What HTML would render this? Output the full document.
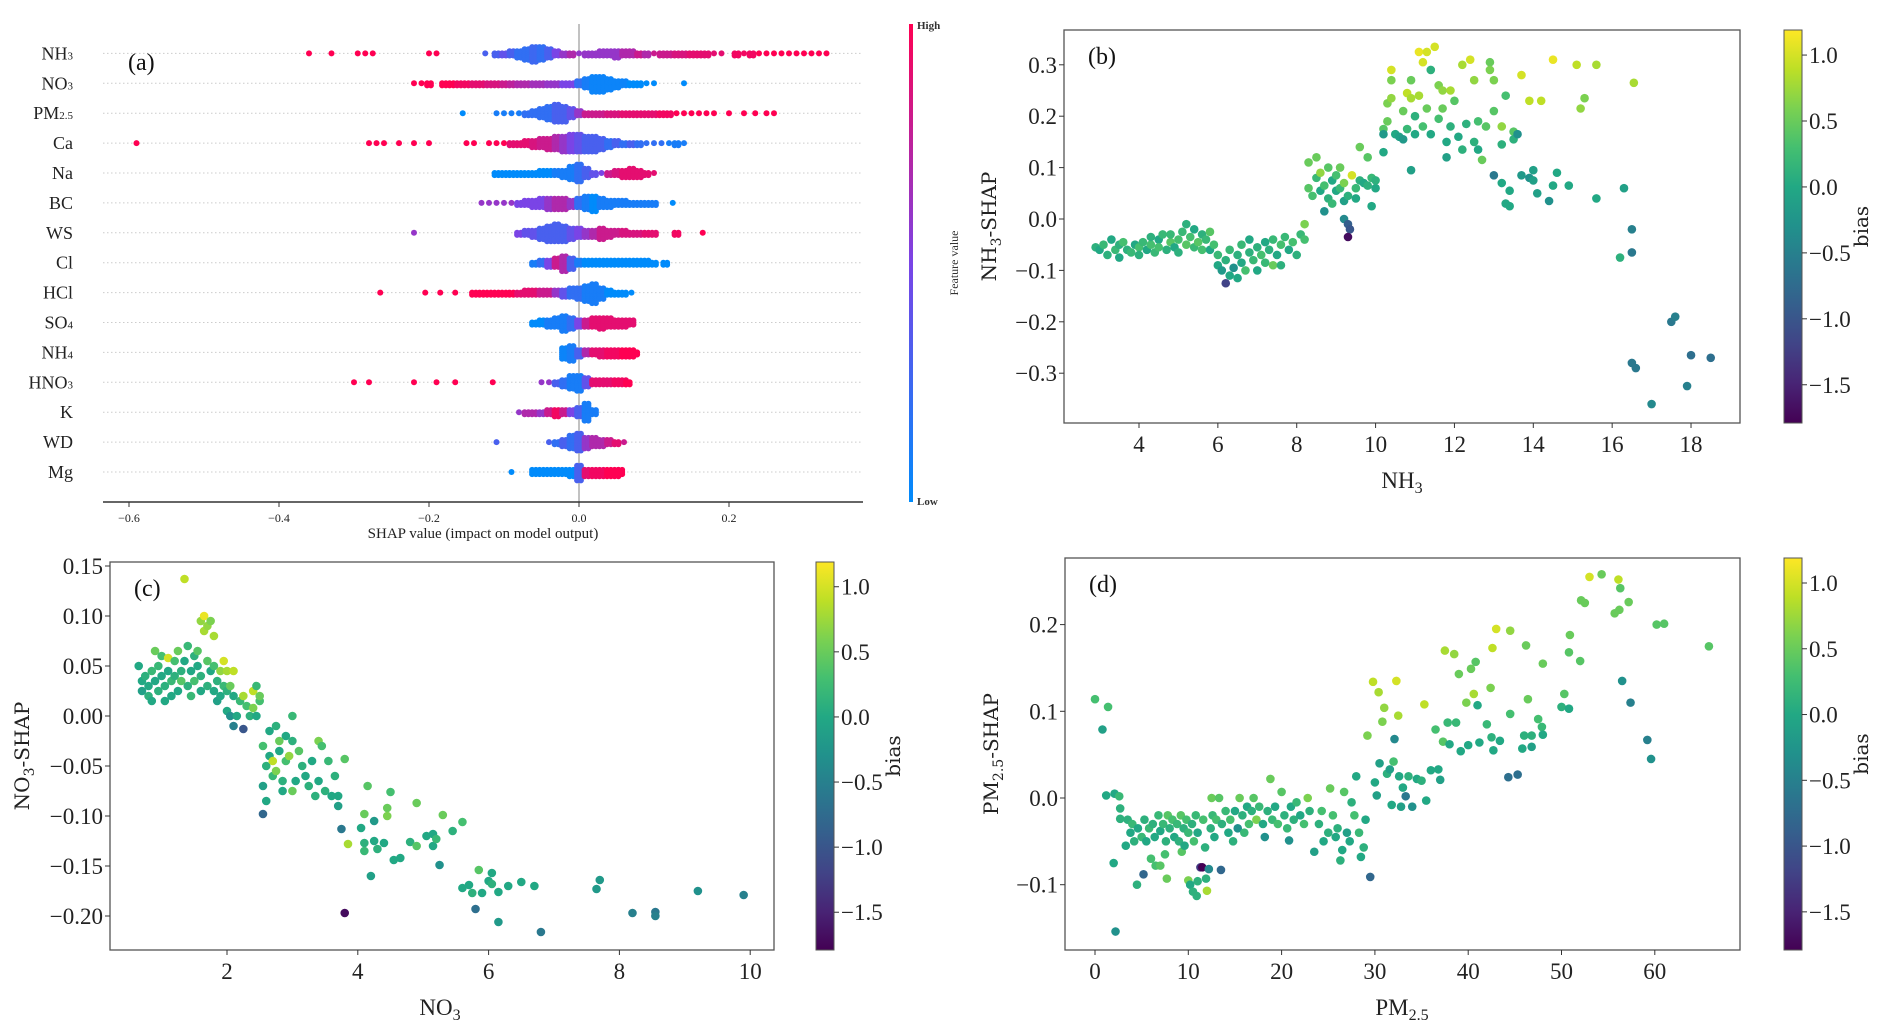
<!DOCTYPE html>
<html><head><meta charset="utf-8">
<style>
html,body{margin:0;padding:0;background:#fff;}
svg{display:block;font-family:"Liberation Serif",serif;}
</style></head>
<body>
<svg id="fig" width="1892" height="1024" viewBox="0 0 1892 1024" xmlns="http://www.w3.org/2000/svg">
<defs>
<linearGradient id="shapgrad" x1="0" y1="1" x2="0" y2="0">
<stop offset="0" stop-color="#008bfb"/><stop offset="0.5" stop-color="#7a44e6"/><stop offset="1" stop-color="#ff0052"/>
</linearGradient>
<linearGradient id="virgrad" x1="0" y1="1" x2="0" y2="0">
<stop offset="0" stop-color="#440154"/><stop offset="0.1" stop-color="#482475"/><stop offset="0.2" stop-color="#414487"/><stop offset="0.3" stop-color="#355f8d"/><stop offset="0.4" stop-color="#2a788e"/><stop offset="0.5" stop-color="#21918c"/><stop offset="0.6" stop-color="#22a884"/><stop offset="0.7" stop-color="#44bf70"/><stop offset="0.8" stop-color="#7ad151"/><stop offset="0.9" stop-color="#bddf26"/><stop offset="1" stop-color="#fde725"/>
</linearGradient>
</defs>
</svg>
<script>
// ---------- Panel (a) data ----------
const featureNames = [["NH","3"],["NO","3"],["PM","2.5"],["Ca",""],["Na",""],["BC",""],["WS",""],["Cl",""],["HCl",""],["SO","4"],["NH","4"],["HNO","3"],["K",""],["WD",""],["Mg",""]];
const shapTicks = [-0.6,-0.4,-0.2,0.0,0.2];
const swarmNH3 = [[-0.36,1,1],[-0.33,1,1],[-0.295,1,1],[-0.285,1,1],[-0.275,1,1],[-0.2,1,1],[-0.19,1,1],[-0.125,1,0.3],[-0.11,2,0.3],[-0.1,2,0.4],[-0.09,3,0.3],[-0.08,4,0.2],[-0.07,6,0.2],[-0.06,8,0.25],[-0.05,7,0.2],[-0.04,5,0.3],[-0.03,3,0.5],[-0.02,2,0.6],[-0.01,2,0.7],[0.0,1,0.6],[0.01,2,0.6],[0.02,2,0.6],[0.03,3,0.6],[0.04,3,0.6],[0.05,4,0.6],[0.06,3,0.7],[0.07,3,0.7],[0.08,2,0.8],[0.09,2,0.7],[0.1,1,0.8],[0.11,2,0.8],[0.12,2,0.8],[0.13,2,0.85],[0.14,2,0.85],[0.15,2,0.9],[0.16,2,0.9],[0.17,2,0.9],[0.18,1,0.9],[0.19,1,0.9],[0.21,2,0.95],[0.22,1,0.95],[0.23,2,0.95],[0.24,1,1],[0.25,1,1],[0.26,1,1],[0.27,1,1],[0.28,1,1],[0.29,1,1],[0.3,1,1],[0.31,1,1],[0.32,1,1],[0.33,1,1]];
const swarmNO3 = [[-0.22,1,1],[-0.21,1,1],[-0.2,2,1],[-0.18,2,1],[-0.17,2,1],[-0.16,2,0.95],[-0.15,2,0.95],[-0.14,2,0.9],[-0.13,2,0.9],[-0.12,2,0.85],[-0.11,2,0.85],[-0.1,2,0.8],[-0.09,2,0.75],[-0.08,2,0.7],[-0.07,2,0.7],[-0.06,2,0.65],[-0.05,2,0.65],[-0.04,2,0.6],[-0.03,2,0.6],[-0.02,2,0.5],[-0.01,2,0.5],[0.0,3,0.2],[0.01,5,0.1],[0.02,8,0.05],[0.03,8,0.05],[0.04,6,0.05],[0.05,4,0.05],[0.06,3,0.05],[0.07,2,0.0],[0.08,2,0.0],[0.09,1,0.0],[0.1,1,0.0],[0.14,1,0.0]];
const swarmPM25 = [[-0.155,1,0],[-0.11,1,0.1],[-0.1,1,0.1],[-0.09,1,0.1],[-0.08,1,0.1],[-0.07,2,0.2],[-0.06,3,0.2],[-0.05,5,0.2],[-0.04,7,0.2],[-0.03,9,0.3],[-0.02,8,0.3],[-0.01,5,0.4],[0.0,3,0.6],[0.01,2,0.8],[0.02,2,0.8],[0.03,2,0.8],[0.04,2,0.85],[0.05,2,0.85],[0.06,2,0.9],[0.07,2,0.9],[0.08,2,0.9],[0.09,2,0.9],[0.1,2,0.9],[0.11,2,0.95],[0.12,2,0.95],[0.13,1,1],[0.14,1,1],[0.15,1,1],[0.16,1,1],[0.17,1,1],[0.18,1,1],[0.2,1,1],[0.22,1,1],[0.235,1,1],[0.25,1,1],[0.26,1,1]];
const swarmCa = [[-0.59,1,1],[-0.28,1,1],[-0.27,1,1],[-0.26,1,1],[-0.24,1,1],[-0.22,1,1],[-0.2,1,1],[-0.15,1,1],[-0.14,1,1],[-0.12,1,1],[-0.11,1,1],[-0.1,1,1],[-0.09,2,0.9],[-0.08,2,0.9],[-0.07,3,0.9],[-0.06,4,0.85],[-0.05,5,0.8],[-0.04,6,0.8],[-0.03,7,0.7],[-0.02,8,0.6],[-0.01,9,0.5],[0.0,9,0.4],[0.01,8,0.3],[0.02,8,0.3],[0.03,6,0.3],[0.04,4,0.2],[0.05,3,0.3],[0.06,2,0.2],[0.07,2,0.3],[0.08,2,0.2],[0.09,1,0.2],[0.1,1,0.2],[0.11,1,0.2],[0.12,1,0.1],[0.13,2,0.1],[0.14,1,0.1]];
const swarmNa = [[-0.11,2,0],[-0.1,2,0],[-0.09,2,0],[-0.08,2,0],[-0.07,2,0],[-0.06,2,0],[-0.05,3,0],[-0.04,3,0],[-0.03,3,0.1],[-0.02,4,0.1],[-0.01,7,0.1],[0.0,9,0.2],[0.01,5,0.3],[0.02,2,0.4],[0.03,1,0.5],[0.04,2,0.8],[0.05,3,0.85],[0.06,4,0.9],[0.07,5,0.9],[0.08,4,0.9],[0.09,2,0.9],[0.1,1,0.9]];
const swarmBC = [[-0.13,1,0.6],[-0.12,1,0.6],[-0.11,1,0.6],[-0.1,1,0.6],[-0.09,1,0.6],[-0.08,2,0.5],[-0.07,3,0.5],[-0.06,4,0.5],[-0.05,5,0.5],[-0.04,6,0.6],[-0.03,6,0.7],[-0.02,6,0.7],[-0.01,4,0.6],[0.0,5,0.2],[0.01,7,0.1],[0.02,8,0.0],[0.03,5,0.1],[0.04,4,0.1],[0.05,3,0.1],[0.06,3,0.1],[0.07,2,0.1],[0.08,2,0.1],[0.09,2,0.1],[0.1,2,0.1],[0.125,1,0]];
const swarmWS = [[-0.22,1,0.6],[-0.08,2,0.5],[-0.07,3,0.4],[-0.06,4,0.4],[-0.05,6,0.3],[-0.04,8,0.3],[-0.03,9,0.3],[-0.02,8,0.3],[-0.01,6,0.4],[0.0,5,0.5],[0.01,4,0.6],[0.02,4,0.7],[0.03,6,0.8],[0.04,4,0.8],[0.05,3,0.8],[0.06,3,0.85],[0.07,2,0.85],[0.08,2,0.85],[0.09,2,0.9],[0.1,2,0.9],[0.13,2,0.95],[0.165,1,1]];
const swarmCl = [[-0.06,2,0.1],[-0.05,3,0.2],[-0.04,4,0.5],[-0.03,5,0.8],[-0.02,8,0.7],[-0.01,6,0.3],[0.0,3,0.1],[0.01,3,0],[0.02,3,0],[0.03,3,0],[0.04,3,0],[0.05,3,0],[0.06,3,0],[0.07,3,0],[0.08,3,0],[0.09,3,0],[0.1,2,0],[0.115,2,0]];
const swarmHCl = [[-0.265,1,1],[-0.205,1,1],[-0.185,1,1],[-0.165,1,1],[-0.14,2,1],[-0.13,2,1],[-0.12,2,1],[-0.11,2,1],[-0.1,2,1],[-0.09,2,1],[-0.08,2,0.9],[-0.07,3,0.9],[-0.06,3,0.9],[-0.05,3,0.8],[-0.04,3,0.8],[-0.03,3,0.6],[-0.02,4,0.4],[-0.01,5,0.2],[0.0,6,0.2],[0.01,8,0.1],[0.02,10,0.1],[0.03,6,0.1],[0.04,3,0],[0.05,2,0],[0.06,2,0],[0.07,1,0]];
const swarmSO4 = [[-0.06,2,0],[-0.05,3,0],[-0.04,4,0.1],[-0.03,5,0.1],[-0.02,8,0.1],[-0.01,6,0.2],[0.0,4,0.5],[0.01,4,0.8],[0.02,5,0.9],[0.03,6,0.9],[0.04,5,0.9],[0.05,4,0.9],[0.06,4,0.9],[0.07,3,0.9]];
const swarmNH4 = [[-0.02,6,0.05],[-0.01,8,0.1],[0.0,4,0.3],[0.01,3,0.7],[0.02,3,0.9],[0.03,4,0.9],[0.04,4,0.95],[0.05,4,0.95],[0.06,4,1],[0.07,4,1],[0.075,2,1]];
const swarmHNO3 = [[-0.3,1,1],[-0.28,1,1],[-0.22,1,1],[-0.19,1,1],[-0.165,1,1],[-0.115,1,1],[-0.05,1,0.6],[-0.04,1,0.6],[-0.03,2,0.3],[-0.02,4,0.2],[-0.01,7,0.1],[0.0,8,0.1],[0.01,5,0.4],[0.02,3,0.9],[0.03,3,0.9],[0.04,3,0.9],[0.05,3,0.95],[0.06,3,0.95],[0.065,2,1]];
const swarmK = [[-0.08,1,0.6],[-0.07,2,0.7],[-0.06,2,0.7],[-0.05,2,0.6],[-0.04,3,0.8],[-0.03,4,0.95],[-0.02,3,0.8],[-0.01,3,0.5],[0.0,5,0.3],[0.01,9,0.1],[0.02,3,0.1]];
const swarmWD = [[-0.11,1,0.3],[-0.04,1,0.3],[-0.03,2,0.2],[-0.02,4,0.3],[-0.01,7,0.2],[0.0,9,0.3],[0.01,6,0.6],[0.02,5,0.7],[0.03,4,0.7],[0.04,3,0.8],[0.05,2,0.9],[0.06,1,0.8]];
const swarmMg = [[-0.09,1,0],[-0.06,3,0],[-0.05,3,0],[-0.04,3,0],[-0.03,3,0],[-0.02,3,0],[-0.01,4,0],[0.0,8,0.3],[0.01,4,0.9],[0.02,4,0.95],[0.03,4,0.95],[0.04,4,1],[0.05,4,1],[0.055,3,1]];
const swarmRows = [swarmNH3,swarmNO3,swarmPM25,swarmCa,swarmNa,swarmBC,swarmWS,swarmCl,swarmHCl,swarmSO4,swarmNH4,swarmHNO3,swarmK,swarmWD,swarmMg];

// ---------- Panel (b) data: [NH3, SHAP, bias] ----------
const nh3Points = [[2.9,-0.055,0.1],[3.0,-0.06,0.0],[3.1,-0.05,0.2],[3.2,-0.07,0.1],[3.3,-0.04,0.0],[3.4,-0.06,0.2],[3.5,-0.05,0.1],[3.5,-0.075,0.0],[3.6,-0.045,0.3],[3.7,-0.06,0.1],[3.8,-0.065,0.2],[3.9,-0.05,0.0],[4.0,-0.055,0.3],[4.0,-0.07,0.1],[4.1,-0.045,0.2],[4.2,-0.06,0.0],[4.3,-0.05,0.3],[4.3,-0.035,0.1],[4.4,-0.065,0.2],[4.5,-0.04,0.0],[4.5,-0.055,0.3],[4.6,-0.03,0.2],[4.7,-0.06,0.1],[4.8,-0.045,0.4],[4.8,-0.03,0.2],[4.9,-0.055,0.0],[5.0,-0.04,0.3],[5.0,-0.065,0.1],[5.1,-0.025,0.2],[5.2,-0.05,0.4],[5.2,-0.01,0.1],[5.3,-0.035,0.3],[5.4,-0.055,0.2],[5.4,-0.02,0.0],[5.5,-0.045,0.4],[5.6,-0.03,0.1],[5.6,-0.06,0.3],[5.7,-0.04,0.2],[5.8,-0.025,0.4],[5.8,-0.06,0.0],[5.9,-0.05,0.3],[6.0,-0.07,0.2],[6.0,-0.09,0.0],[6.1,-0.1,-0.2],[6.2,-0.125,-1.2],[6.2,-0.08,0.1],[6.3,-0.11,0.0],[6.3,-0.06,0.2],[6.4,-0.095,-0.3],[6.5,-0.07,0.1],[6.5,-0.115,0.0],[6.6,-0.05,0.2],[6.6,-0.085,0.0],[6.7,-0.1,0.3],[6.8,-0.065,0.1],[6.8,-0.04,0.0],[6.9,-0.08,0.2],[7.0,-0.055,0.1],[7.0,-0.1,0.0],[7.1,-0.07,0.3],[7.2,-0.045,0.0],[7.2,-0.085,0.2],[7.3,-0.06,0.1],[7.4,-0.09,0.5],[7.4,-0.04,0.2],[7.5,-0.07,0.0],[7.6,-0.05,0.3],[7.6,-0.09,0.1],[7.7,-0.035,0.2],[7.8,-0.06,0.0],[7.9,-0.045,0.3],[8.0,-0.07,0.1],[8.1,-0.03,0.2],[8.2,-0.01,0.6],[8.2,-0.04,0.3],[8.3,0.11,0.5],[8.3,0.06,0.4],[8.4,0.045,0.3],[8.5,0.12,0.5],[8.5,0.08,0.2],[8.6,0.055,0.0],[8.6,0.09,0.7],[8.7,0.065,0.3],[8.8,0.1,0.4],[8.8,0.04,0.1],[8.9,0.075,0.0],[8.9,0.03,0.2],[8.7,0.015,-0.3],[9.0,0.085,0.3],[9.0,0.055,0.0],[9.1,0.06,0.2],[9.1,0.1,0.5],[9.2,0.035,-0.1],[9.2,0.07,0.6],[9.2,0.0,-0.4],[9.3,-0.01,-0.9],[9.35,-0.02,-1.0],[9.3,-0.035,-1.7],[9.3,0.045,0.1],[9.4,0.085,1.0],[9.5,0.06,0.2],[9.5,0.04,0.0],[9.6,0.075,0.1],[9.6,0.14,0.5],[9.7,0.07,0.0],[9.8,0.12,0.4],[9.8,0.065,0.1],[9.9,0.025,0.0],[9.9,0.08,0.2],[10.0,0.06,0.0],[10.0,0.075,0.1],[10.2,0.13,0.0],[10.2,0.175,0.4],[10.2,0.165,-0.2],[10.3,0.225,0.6],[10.3,0.19,0.5],[10.4,0.235,0.7],[10.4,0.29,1.0],[10.4,0.27,0.6],[10.5,0.165,0.0],[10.6,0.16,-0.1],[10.7,0.155,-0.2],[10.7,0.21,0.5],[10.8,0.245,0.9],[10.8,0.175,0.2],[10.9,0.095,-0.1],[10.9,0.27,0.5],[10.9,0.235,0.8],[11.0,0.2,0.1],[11.0,0.165,0.0],[11.1,0.325,1.1],[11.1,0.24,0.8],[11.2,0.305,1.0],[11.2,0.18,0.3],[11.3,0.325,1.0],[11.3,0.215,0.5],[11.4,0.29,0.1],[11.4,0.165,0.0],[11.5,0.335,1.0],[11.6,0.26,0.6],[11.6,0.195,0.3],[11.7,0.215,0.5],[11.7,0.25,0.7],[11.8,0.15,0.0],[11.8,0.12,-0.1],[11.9,0.25,0.8],[11.9,0.18,0.1],[12.0,0.23,0.4],[12.1,0.16,0.0],[12.2,0.135,0.1],[12.2,0.3,0.8],[12.3,0.185,0.1],[12.4,0.31,1.0],[12.5,0.27,0.7],[12.5,0.15,0.1],[12.6,0.135,0.0],[12.6,0.19,0.3],[12.7,0.115,0.5],[12.8,0.18,0.4],[12.9,0.305,0.5],[12.9,0.29,0.6],[13.0,0.21,0.4],[13.0,0.27,0.6],[13.0,0.085,-0.6],[13.2,0.07,0.0],[13.2,0.145,0.1],[13.2,0.18,0.7],[13.3,0.24,0.3],[13.3,0.03,0.0],[13.4,0.055,0.0],[13.4,0.025,0.0],[13.5,0.17,0.4],[13.5,0.155,0.1],[13.6,0.165,-0.3],[13.7,0.28,1.0],[13.7,0.085,-0.2],[13.9,0.23,0.9],[13.9,0.08,-0.3],[14.0,0.095,-0.1],[14.0,0.075,-0.1],[14.1,0.05,-0.1],[14.2,0.23,0.9],[14.4,0.035,-0.3],[14.5,0.065,0.0],[14.5,0.31,1.1],[14.6,0.09,0.0],[14.9,0.065,0.0],[15.1,0.3,0.9],[15.2,0.215,0.7],[15.3,0.235,0.6],[15.6,0.04,0.0],[15.6,0.3,0.8],[16.2,-0.075,0.1],[16.3,0.06,-0.1],[16.5,-0.065,-0.6],[16.5,-0.02,-0.5],[16.55,0.265,0.8],[16.5,-0.28,-0.6],[16.6,-0.29,-0.6],[17.0,-0.36,-0.4],[17.5,-0.2,-0.6],[17.6,-0.19,-0.5],[17.9,-0.325,-0.5],[18.0,-0.265,-0.7],[18.5,-0.27,-0.7]];
const nh3XTicks = [4,6,8,10,12,14,16,18];
const nh3YTicks = [-0.3,-0.2,-0.1,0.0,0.1,0.2,0.3];

// ---------- Panel (c) data: [NO3, SHAP, bias] ----------
const no3Points = [[0.65,0.05,0.0],[0.7,0.035,0.0],[0.7,0.025,-0.1],[0.75,0.04,0.1],[0.8,0.03,0.0],[0.8,0.02,0.1],[0.85,0.045,0.2],[0.85,0.015,0.0],[0.9,0.065,0.5],[0.9,0.035,0.0],[0.95,0.05,0.2],[0.95,0.025,0.1],[1.0,0.04,0.0],[1.0,0.06,0.3],[1.05,0.03,0.1],[1.05,0.015,0.0],[1.1,0.058,1.0],[1.1,0.045,0.0],[1.15,0.035,0.2],[1.15,0.02,0.0],[1.2,0.055,0.3],[1.2,0.04,0.1],[1.25,0.065,0.5],[1.25,0.025,0.0],[1.3,0.045,0.1],[1.3,0.035,0.4],[1.35,0.137,0.9],[1.35,0.055,0.0],[1.4,0.07,0.2],[1.4,0.03,0.1],[1.45,0.045,0.0],[1.45,0.02,0.2],[1.5,0.06,0.1],[1.5,0.035,0.3],[1.55,0.05,0.0],[1.55,0.065,0.4],[1.6,0.095,0.7],[1.6,0.04,0.1],[1.6,0.025,0.0],[1.65,0.085,0.8],[1.65,0.1,1.1],[1.7,0.09,0.7],[1.7,0.055,0.4],[1.7,0.03,0.1],[1.75,0.045,0.0],[1.75,0.095,0.6],[1.8,0.08,0.8],[1.8,0.025,0.0],[1.8,0.05,0.3],[1.85,0.035,0.1],[1.85,0.015,-0.1],[1.9,0.045,0.7],[1.9,0.02,0.0],[1.95,0.055,1.0],[1.95,0.03,0.2],[2.0,0.005,0.0],[2.0,0.045,0.8],[2.0,0.025,0.1],[2.05,0.0,-0.3],[2.05,0.03,0.5],[2.1,0.045,0.9],[2.1,0.02,0.0],[2.1,-0.01,-0.5],[2.15,0.0,0.0],[2.2,0.015,0.2],[2.25,0.02,0.8],[2.25,-0.013,-1.0],[2.3,0.01,0.3],[2.35,0.0,0.1],[2.4,0.025,0.9],[2.4,0.008,0.6],[2.45,0.03,0.2],[2.45,0.0,0.0],[2.5,0.015,0.3],[2.5,0.02,0.5],[2.55,-0.03,0.3],[2.55,-0.07,-0.1],[2.6,-0.05,0.1],[2.55,-0.098,-0.8],[2.6,-0.085,0.0],[2.65,-0.015,0.0],[2.65,-0.04,0.0],[2.7,-0.045,0.9],[2.7,-0.06,0.2],[2.75,-0.01,0.1],[2.75,-0.055,0.6],[2.8,-0.025,0.5],[2.8,-0.035,0.0],[2.85,-0.065,0.1],[2.85,-0.075,0.0],[2.9,-0.02,0.0],[2.9,-0.045,0.3],[2.95,-0.04,0.7],[3.0,0.0,0.2],[3.0,-0.025,0.1],[3.0,-0.075,0.5],[3.05,-0.065,0.0],[3.1,-0.035,0.4],[3.15,-0.05,0.1],[3.2,-0.06,0.0],[3.25,-0.07,0.1],[3.3,-0.045,0.0],[3.35,-0.08,0.1],[3.4,-0.025,0.6],[3.4,-0.065,0.0],[3.45,-0.03,0.3],[3.5,-0.075,0.1],[3.55,-0.045,0.2],[3.6,-0.08,0.0],[3.65,-0.06,0.1],[3.7,-0.08,0.0],[3.7,-0.09,-0.1],[3.75,-0.113,-0.6],[3.8,-0.043,0.4],[3.85,-0.128,0.8],[3.8,-0.197,-1.7],[4.05,-0.112,0.0],[4.1,-0.098,0.5],[4.1,-0.127,0.1],[4.1,-0.135,0.2],[4.15,-0.07,0.4],[4.2,-0.16,-0.1],[4.25,-0.105,-0.2],[4.25,-0.125,0.0],[4.3,-0.133,0.1],[4.4,-0.127,0.0],[4.45,-0.092,0.5],[4.45,-0.1,0.6],[4.5,-0.076,0.3],[4.55,-0.144,0.0],[4.65,-0.142,0.0],[4.8,-0.126,0.1],[4.9,-0.087,0.5],[4.9,-0.13,0.4],[5.05,-0.12,0.0],[5.15,-0.118,0.0],[5.15,-0.13,0.0],[5.2,-0.123,0.2],[5.3,-0.099,0.5],[5.25,-0.149,-0.3],[5.45,-0.115,0.1],[5.6,-0.106,0.3],[5.6,-0.172,0.0],[5.7,-0.169,0.0],[5.75,-0.177,0.1],[5.8,-0.193,-0.7],[5.85,-0.154,0.4],[5.9,-0.177,0.0],[6.0,-0.165,0.0],[6.05,-0.157,0.0],[6.05,-0.168,0.1],[6.15,-0.176,0.0],[6.15,-0.206,-0.2],[6.3,-0.17,0.0],[6.5,-0.166,0.0],[6.7,-0.17,0.0],[6.8,-0.216,-0.6],[7.65,-0.173,-0.2],[7.7,-0.164,-0.2],[8.2,-0.197,-0.5],[8.55,-0.196,-0.6],[8.55,-0.2,-0.5],[9.2,-0.175,-0.3],[9.9,-0.179,-0.5]];
const no3XTicks = [2,4,6,8,10];
const no3YTicks = [-0.2,-0.15,-0.1,-0.05,0.0,0.05,0.1,0.15];

// ---------- Panel (d) data: [PM2.5, SHAP, bias] ----------
const pmPoints = [[0.0,0.114,0.3],[0.8,0.079,-0.1],[1.4,0.105,0.3],[1.2,0.003,0.0],[2.1,0.005,0.0],[2.6,0.002,0.2],[2.7,-0.012,0.1],[2.7,-0.024,0.1],[2.0,-0.075,0.0],[2.2,-0.154,-0.3],[3.3,-0.055,0.0],[3.5,-0.025,0.1],[3.8,-0.04,0.0],[4.0,-0.03,0.2],[4.2,-0.05,0.1],[4.5,-0.1,0.1],[4.6,-0.035,0.0],[5.0,-0.045,0.2],[5.2,-0.088,-0.8],[5.3,-0.025,0.1],[5.5,-0.05,0.0],[5.8,-0.035,0.2],[6.0,-0.07,0.3],[6.2,-0.03,0.1],[6.4,-0.045,0.0],[6.5,-0.078,0.3],[6.8,-0.02,0.2],[7.0,-0.038,0.0],[7.0,-0.078,0.4],[7.3,-0.03,0.2],[7.5,-0.065,0.3],[7.6,-0.05,0.1],[7.7,-0.093,0.5],[7.8,-0.02,0.4],[8.0,-0.035,0.1],[8.3,-0.025,0.3],[8.5,-0.045,0.0],[8.8,-0.03,0.2],[9.0,-0.05,0.1],[9.2,-0.02,0.4],[9.3,-0.062,0.4],[9.5,-0.035,0.1],[9.6,-0.055,0.0],[9.8,-0.025,0.3],[10.0,-0.095,0.6],[10.0,-0.04,0.2],[10.2,-0.1,0.0],[10.4,-0.03,0.1],[10.5,-0.108,0.1],[10.6,-0.05,0.3],[10.8,-0.02,0.2],[10.9,-0.113,0.1],[11.0,-0.04,0.0],[11.0,-0.096,0.1],[11.3,-0.08,-1.3],[11.5,-0.08,-1.8],[11.6,-0.025,0.3],[11.8,-0.057,0.1],[11.9,-0.093,0.1],[12.0,-0.107,0.8],[12.2,-0.082,-0.4],[12.4,-0.035,0.1],[12.5,0.0,0.5],[12.6,-0.02,0.2],[12.8,-0.045,0.0],[13.0,-0.025,0.3],[13.3,0.0,0.4],[13.5,-0.083,-0.8],[13.6,-0.03,0.1],[14.0,-0.015,0.2],[14.3,-0.04,0.0],[14.5,-0.025,0.3],[14.8,-0.05,0.1],[15.0,-0.015,0.0],[15.3,-0.035,-0.3],[15.5,0.0,0.5],[15.8,-0.02,0.1],[16.0,-0.04,0.2],[16.3,-0.01,0.0],[16.5,-0.03,0.3],[16.8,-0.015,0.1],[17.0,0.0,0.4],[17.3,-0.025,0.6],[17.6,-0.01,0.2],[18.0,-0.03,0.0],[18.2,-0.045,-0.3],[18.5,-0.015,0.1],[18.8,0.022,0.5],[19.0,-0.025,0.2],[19.3,-0.01,0.0],[19.6,-0.03,0.3],[20.0,0.007,0.4],[20.3,-0.02,0.1],[20.6,-0.035,0.2],[20.8,-0.049,-0.3],[21.0,-0.01,0.0],[21.3,-0.025,0.1],[21.6,-0.005,0.2],[22.0,-0.02,0.0],[22.4,-0.03,0.3],[22.8,0.0,0.6],[23.0,-0.015,0.1],[23.5,-0.062,-0.1],[24.0,-0.03,0.1],[24.3,-0.015,0.3],[24.5,-0.05,0.0],[25.0,-0.04,0.1],[25.2,0.011,0.5],[25.5,-0.02,0.3],[25.8,-0.045,0.0],[26.0,-0.035,0.1],[26.3,-0.072,0.1],[26.5,-0.06,0.0],[26.7,0.007,0.4],[27.0,-0.04,-0.1],[27.3,-0.05,0.0],[27.5,-0.005,0.1],[27.8,-0.02,0.3],[28.0,0.025,0.0],[28.3,-0.04,0.2],[28.5,-0.068,0.0],[28.8,-0.057,0.1],[29.0,-0.025,0.0],[29.2,0.072,0.6],[29.5,-0.091,-0.8],[29.8,0.134,0.9],[30.0,0.018,0.0],[30.2,0.003,-0.1],[30.4,0.122,0.8],[30.5,0.04,-0.1],[30.8,0.088,0.6],[31.0,0.104,0.7],[31.3,0.028,0.1],[31.6,0.033,-0.1],[31.8,-0.008,0.0],[32.0,0.042,0.3],[32.1,0.068,-0.4],[32.3,0.135,1.0],[32.5,0.095,0.8],[32.6,0.025,0.0],[32.8,-0.01,-0.1],[33.0,0.012,0.0],[33.3,0.002,-0.6],[33.6,0.025,0.1],[34.0,-0.01,-0.3],[34.5,0.022,0.0],[35.0,0.02,0.1],[35.3,0.108,0.9],[35.5,-0.003,0.0],[36.0,0.032,0.0],[36.5,0.079,0.3],[36.8,0.033,0.0],[37.0,0.021,-0.1],[37.3,0.065,0.4],[37.5,0.17,0.8],[37.8,0.087,0.2],[38.0,0.062,0.0],[38.5,0.166,0.7],[38.7,0.087,0.2],[39.0,0.143,0.5],[39.2,0.054,0.0],[39.8,0.11,0.6],[40.0,0.061,0.0],[40.3,0.149,0.5],[40.6,0.12,0.8],[40.8,0.157,0.4],[41.0,0.107,0.0],[41.2,0.064,0.0],[42.0,0.085,0.2],[42.4,0.127,0.6],[42.5,0.07,0.1],[42.6,0.173,0.9],[42.7,0.055,0.0],[43.0,0.195,1.0],[43.4,0.066,0.0],[44.3,0.024,-0.7],[44.5,0.193,0.7],[44.5,0.097,0.3],[45.3,0.027,-0.7],[45.8,0.057,0.0],[46.0,0.072,0.1],[46.2,0.176,0.5],[46.4,0.114,0.5],[46.8,0.072,0.1],[46.8,0.059,-0.1],[47.5,0.091,0.3],[47.9,0.082,0.2],[48.0,0.155,0.5],[48.0,0.073,0.0],[50.0,0.105,0.1],[50.3,0.12,0.4],[50.8,0.103,0.0],[50.9,0.188,0.5],[50.8,0.168,0.4],[52.0,0.158,0.4],[52.1,0.228,0.5],[52.5,0.225,0.5],[53.0,0.255,1.0],[54.3,0.258,0.5],[55.7,0.213,0.5],[56.1,0.252,0.9],[56.3,0.242,0.4],[56.2,0.217,0.5],[56.5,0.135,-0.3],[57.2,0.226,0.5],[57.4,0.11,-0.5],[59.2,0.067,-0.5],[59.6,0.045,-0.3],[60.2,0.2,0.4],[61.0,0.201,0.4],[65.8,0.175,0.4]];
const pmXTicks = [0,10,20,30,40,50,60];
const pmYTicks = [-0.1,0.0,0.1,0.2];
const biasTicks = [-1.5,-1.0,-0.5,0.0,0.5,1.0];

// ---------- helpers ----------
const NS = "http://www.w3.org/2000/svg";
const svg = document.getElementById("fig");
function mk(tag, attrs, parent){ const e=document.createElementNS(NS,tag); for(const k in attrs) e.setAttribute(k,attrs[k]); (parent||svg).appendChild(e); return e; }
function fmt(v,d){ const s=Math.abs(v).toFixed(d); return (v<-1e-9?"\u2212":"")+s; }
const VIR=[[68,1,84],[72,36,117],[65,68,135],[53,95,141],[42,120,142],[33,145,140],[34,168,132],[68,191,112],[122,209,81],[189,223,38],[253,231,37]];
function viridis(t){ t=Math.max(0,Math.min(1,t)); const p=t*10, i=Math.min(9,Math.floor(p)), f=p-i; const a=VIR[i],b=VIR[i+1]; return `rgb(${Math.round(a[0]+(b[0]-a[0])*f)},${Math.round(a[1]+(b[1]-a[1])*f)},${Math.round(a[2]+(b[2]-a[2])*f)})`; }
function shapColor(t){ const A=[0,139,251],M=[122,68,230],B=[255,0,82]; let a,b,f; if(t<0.5){a=A;b=M;f=t/0.5;}else{a=M;b=B;f=(t-0.5)/0.5;} return `rgb(${Math.round(a[0]+(b[0]-a[0])*f)},${Math.round(a[1]+(b[1]-a[1])*f)},${Math.round(a[2]+(b[2]-a[2])*f)})`; }
const VMIN=-1.79, VMAX=1.19;

// ---------- Panel (a) ----------
(function(){
  const g=mk("g",{});
  
  
  const xa=v=>579+v*750;
  const rowY=i=>53.4+i*29.9;
  featureNames.forEach((f,i)=>{
    const y=rowY(i);
    const ln=mk("line",{x1:103,x2:863,y1:y,y2:y,stroke:"#cccccc","stroke-width":1,"stroke-dasharray":"1.5,2.5"},g);
    
    
    const t=mk("text",{x:73,y:y+6,"text-anchor":"end","font-size":18,fill:"#222"},g);
    
    
    t.textContent=f[0];
    if(f[1]){ const s=mk("tspan",{"font-size":11,dy:0},t); s.textContent=f[1]; }
  });
  const zl=mk("line",{x1:xa(0),x2:xa(0),y1:24,y2:502,stroke:"#999",'stroke-width':1.2},g);
  
  
  swarmRows.forEach((row,i)=>{
    const yc=rowY(i);
    const rg=mk("g",{},g);
    
    
    row.forEach(b=>{
      const [v,n,c]=b;
      const offs=[0];
      for(let k=1;offs.length<n;k++){offs.push(k);if(offs.length<n)offs.push(-k);}
      const fill=shapColor(c);
      const xs = n>1 ? [xa(v)-1.9,xa(v)+1.9] : [xa(v)];
      xs.forEach(xx=>{
        offs.forEach(o=>{
          const d=mk("circle",{cx:xx,cy:yc+o*2.1,r:3.0,fill:fill},rg);
          
          
        });
      });
    });
  });
  const ax=mk("line",{x1:103,x2:863,y1:502,y2:502,stroke:"#333","stroke-width":1.5},g);
  
  
  shapTicks.forEach(v=>{
    const tk=mk("line",{x1:xa(v),x2:xa(v),y1:502,y2:507,stroke:"#333"},g);
    
    
    const tl=mk("text",{x:xa(v),y:522,"text-anchor":"middle","font-size":12,fill:"#222"},g);
    
    
    tl.textContent=fmt(v,1);
  });
  const xt=mk("text",{x:483,y:538,"text-anchor":"middle","font-size":15,fill:"#222"},g);
  
  
  xt.textContent="SHAP value (impact on model output)";
  const lab=mk("text",{x:128,y:70,"font-size":24,fill:"#111"},g);
  
  
  lab.textContent="(a)";
  const cb=mk("rect",{x:909,y:24,width:4,height:478,fill:"url(#shapgrad)"},g);
  
  
  const hi=mk("text",{x:917,y:29,"font-size":11,"font-weight":"bold",fill:"#333"},g);
  
  
  hi.textContent="High";
  const lo=mk("text",{x:917,y:505,"font-size":11,"font-weight":"bold",fill:"#333"},g);
  
  
  lo.textContent="Low";
  const fv=mk("text",{x:0,y:0,"font-size":12,fill:"#333","text-anchor":"middle",transform:"translate(958,263) rotate(-90)"},g);
  
  
  fv.textContent="Feature value";
})();

// ---------- scatter panels ----------
function scatterPanel(cfg){
  const g=mk("g",{});
  
  
  const sx=v=>cfg.x0+(v-cfg.xv0)*cfg.xs;
  const sy=v=>cfg.y0-(v-cfg.yv0)*cfg.ys;
  const fr=mk("rect",{x:cfg.L,y:cfg.T,width:cfg.R-cfg.L,height:cfg.B-cfg.T,fill:"#fff",stroke:"#555","stroke-width":1.3},g);
  
  
  const pg=mk("g",{},g);
  
  
  cfg.points.forEach(p=>{
    const c=mk("circle",{cx:sx(p[0]),cy:sy(p[1]),r:4.3,fill:viridis((p[2]-VMIN)/(VMAX-VMIN))},pg);
    
    
  });
  cfg.xticks.forEach(v=>{
    const tk=mk("line",{x1:sx(v),x2:sx(v),y1:cfg.B,y2:cfg.B+5,stroke:"#333"},g);
    
    
    const tl=mk("text",{x:sx(v),y:cfg.B+29,"text-anchor":"middle","font-size":23,fill:"#222"},g);
    
    
    tl.textContent=fmt(v,0);
  });
  cfg.yticks.forEach(v=>{
    const tk=mk("line",{x1:cfg.L-5,x2:cfg.L,y1:sy(v),y2:sy(v),stroke:"#333"},g);
    
    
    const tl=mk("text",{x:cfg.L-7,y:sy(v)+8,"text-anchor":"end","font-size":23,fill:"#222"},g);
    
    
    tl.textContent=fmt(v,cfg.ydec);
  });
  const xl=mk("text",{x:cfg.xlx,y:cfg.B+65,"text-anchor":"middle","font-size":23,fill:"#222"},g);
  
  
  xl.textContent=cfg.xlab[0];
  const xs2=mk("tspan",{"font-size":16,dy:5},xl); xs2.textContent=cfg.xlab[1];
  const yl=mk("text",{x:0,y:0,"text-anchor":"middle","font-size":20,fill:"#222","font-family":"DejaVu Serif, serif",transform:`translate(${cfg.ylx},${(cfg.T+cfg.B)/2}) rotate(-90)`},g);
  
  
  yl.textContent=cfg.ylab[0];
  const ys2=mk("tspan",{"font-size":14,dy:5},yl); ys2.textContent=cfg.ylab[1];
  const ys3=mk("tspan",{dy:-5},yl); ys3.textContent="-SHAP";
  const pl=mk("text",{x:cfg.L+24,y:cfg.T+34,"font-size":24,fill:"#111"},g);
  
  
  pl.textContent=cfg.label;
  const cbx=cfg.cbx, cbw=18;
  const cb=mk("rect",{x:cbx,y:cfg.T,width:cbw,height:cfg.B-cfg.T,fill:"url(#virgrad)",stroke:"#555","stroke-width":1},g);
  
  
  const cy=v=>cfg.B-(v-VMIN)/(VMAX-VMIN)*(cfg.B-cfg.T);
  biasTicks.forEach(v=>{
    const tk=mk("line",{x1:cbx+cbw,x2:cbx+cbw+5,y1:cy(v),y2:cy(v),stroke:"#333"},g);
    
    
    const tl=mk("text",{x:cbx+cbw+7,y:cy(v)+8,"font-size":23,fill:"#222"},g);
    
    
    tl.textContent=fmt(v,1);
  });
  const bl=mk("text",{x:0,y:0,"text-anchor":"middle","font-size":20,fill:"#222","font-family":"DejaVu Serif, serif",transform:`translate(${cbx+84},${(cfg.T+cfg.B)/2}) rotate(-90)`},g);
  
  
  bl.textContent="bias";
}
scatterPanel({name:"nh3-dependence-panel",label:"(b)",points:nh3Points,L:1064,R:1740,T:30,B:423,x0:1139,xv0:4,xs:39.43,y0:219,yv0:0,ys:514,xticks:nh3XTicks,yticks:nh3YTicks,ydec:1,xlab:["NH","3"],ylab:["NH","3"],xlx:1402,ylx:996,cbx:1784});
scatterPanel({name:"no3-dependence-panel",label:"(c)",points:no3Points,L:110,R:774,T:562,B:950,x0:227,xv0:2,xs:65.4,y0:716,yv0:0,ys:1000,xticks:no3XTicks,yticks:no3YTicks,ydec:2,xlab:["NO","3"],ylab:["NO","3"],xlx:440,ylx:29,cbx:816});
scatterPanel({name:"pm25-dependence-panel",label:"(d)",points:pmPoints,L:1065,R:1740,T:558,B:950,x0:1095,xv0:0,xs:9.33,y0:798,yv0:0,ys:867,xticks:pmXTicks,yticks:pmYTicks,ydec:1,xlab:["PM","2.5"],ylab:["PM","2.5"],xlx:1402,ylx:998,cbx:1784});
</script>
</body></html>
